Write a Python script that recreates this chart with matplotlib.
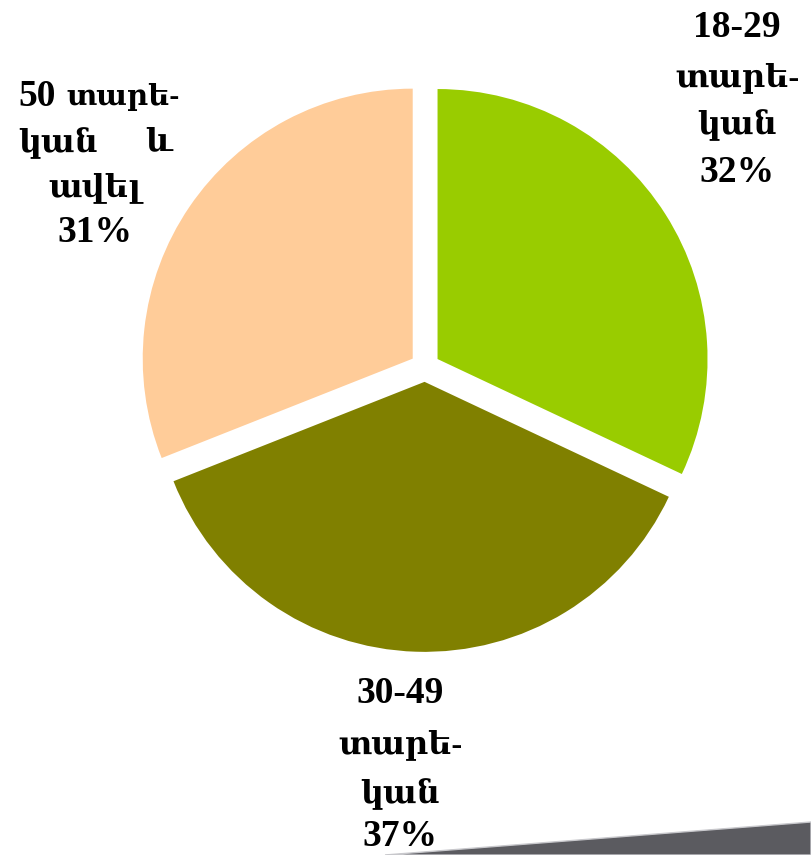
import matplotlib.pyplot as plt
from matplotlib.patches import Polygon

# age groups and shares (%)
groups = ["18-29", "30-49", "50"]
shares = [32, 37, 31]
colors = ["#99CC00", "#808000", "#FFCC99"]

W, H = 811, 855
FONT = ["Liberation Serif", "DejaVu Serif", "DejaVu Sans"]

# pie centre and radius in pixels
CX, CY, R = 425, 367, 270


def main():
    fig = plt.figure(figsize=(W / 100, H / 100), dpi=100)

    # pie axes in unit coordinates, placed over the pixel centre
    half = 320
    pie_ax = fig.add_axes([(CX - half) / W, (H - CY - half) / H,
                           2 * half / W, 2 * half / H])
    pie_ax.pie(
        shares,
        colors=colors,
        startangle=90,
        counterclock=False,
        radius=1,
        explode=[0.055] * 3,
        wedgeprops=dict(linewidth=0),
    )
    lim = half / R
    pie_ax.set_xlim(-lim, lim)
    pie_ax.set_ylim(-lim, lim)
    pie_ax.axis("off")

    # text layer in pixel coordinates
    ax = fig.add_axes([0, 0, 1, 1])
    ax.set_xlim(0, W)
    ax.set_ylim(0, H)
    ax.axis("off")

    num = dict(family=FONT, fontsize=27, fontweight="bold", color="black",
               va="center")
    arm = dict(family=FONT, fontsize=23, fontweight="bold", color="black",
               va="center")

    def block(x, ys, group, share):
        ax.text(x, H - ys[0], group, ha="center", **num)
        ax.text(x, H - ys[1], "տարե-", ha="center", **arm)
        ax.text(x, H - ys[2], "կան", ha="center", **arm)
        ax.text(x, H - ys[3], f"{share}%", ha="center", **num)

    block(737, [28, 78, 125, 172], groups[0], shares[0])
    block(400, [693, 745, 794, 836], groups[1], shares[1])

    # 50+ label, justified first two lines
    ax.text(18, H - 97, groups[2], ha="left", **num)
    ax.text(66, H - 97, "տարե-", ha="left",
            **{**arm, "fontsize": 21})
    ax.text(18, H - 143, "կան", ha="left", **arm)
    ax.text(172, H - 143, "և", ha="right", **arm)
    ax.text(95, H - 188, "ավել", ha="center", **arm)
    ax.text(95, H - 233, f"{shares[2]}%", ha="center", **num)

    # grey strip in the bottom-right corner
    fig.patches.append(Polygon(
        [(385 / W, 0), (1, 33 / H), (1, 0)],
        closed=True, transform=fig.transFigure,
        facecolor="#5b5b60", edgecolor="#c8c8cc", linewidth=1,
    ))

    fig.savefig("out.png", dpi=100)


if __name__ == "__main__":
    main()
